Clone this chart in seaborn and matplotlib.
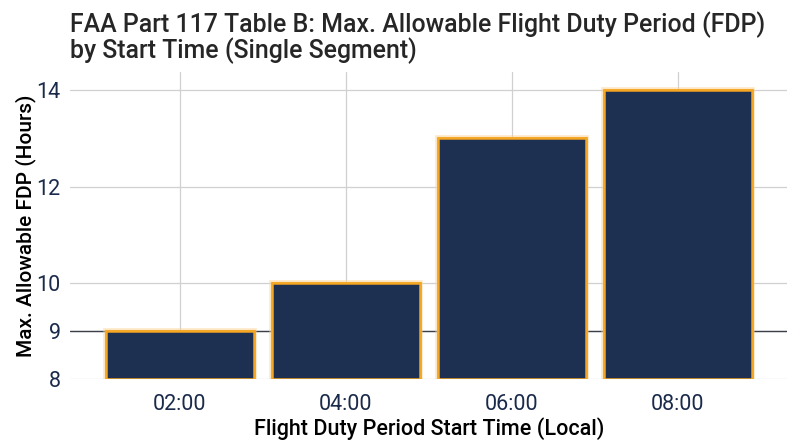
import matplotlib
matplotlib.use("Agg")

import matplotlib.pyplot as plt
import matplotlib.patheffects as pe
import pandas as pd
import seaborn as sns

# Datos
horas_inicio = ["02:00", "04:00", "06:00", "08:00"]
fdp_max = [9, 10, 13, 14]
ticks_y = [8, 9, 10, 12, 14]
linea_ref = 9

COLOR_BARRA = "#1e3052"
COLOR_BORDE = "#f5a623"
COLOR_TEXTO = "#1a2a4a"

sns.set_theme(style="whitegrid")
plt.rcParams["font.family"] = ["Roboto", "DejaVu Sans"]

df = pd.DataFrame({"inicio": horas_inicio, "fdp": fdp_max})

fig, ax = plt.subplots(figsize=(8, 4.47), dpi=100)
fig.subplots_adjust(left=0.088, right=0.984, top=0.838, bottom=0.152)

ax.axhline(linea_ref, color="#3a3f4a", linewidth=1.0, zorder=1)

sns.barplot(data=df, x="inicio", y="fdp", color=COLOR_BARRA, width=0.89,
            edgecolor=COLOR_BORDE, linewidth=1.8, saturation=1, ax=ax, zorder=2)

# Barras desde 8 (base del eje), no desde 0
for barra, valor in zip(ax.patches, fdp_max):
    barra.set_y(8)
    barra.set_height(valor - 8)
    barra.set_path_effects([pe.withStroke(linewidth=4, foreground="#fbd08a", alpha=0.5),
                            pe.Normal()])

ax.set_ylim(8, 14.37)
ax.set_xlim(-0.66, 3.66)
ax.set_yticks(ticks_y)
ax.tick_params(axis="both", labelsize=15.5, labelcolor=COLOR_TEXTO, length=3,
               color="#999999", width=0.8)
ax.tick_params(axis="x", pad=8)
ax.tick_params(axis="y", pad=4)
ax.grid(True, color="#d0d0d0", linewidth=0.9)
ax.set_axisbelow(True)
for lado in ax.spines.values():
    lado.set_visible(False)

ax.set_xlabel("Flight Duty Period Start Time (Local)", fontsize=15.5, fontweight="medium",
              color="black", labelpad=1)
ax.set_ylabel("Max. Allowable FDP (Hours)", fontsize=15, fontweight="medium",
              color="black", labelpad=0)

fig.text(0.088, 0.975, "FAA Part 117 Table B: Max. Allowable Flight Duty Period (FDP)\n"
         "by Start Time (Single Segment)", fontsize=17.9, fontweight="medium",
         ha="left", va="top", linespacing=1.0)

fig.savefig("out.png", dpi=100)
